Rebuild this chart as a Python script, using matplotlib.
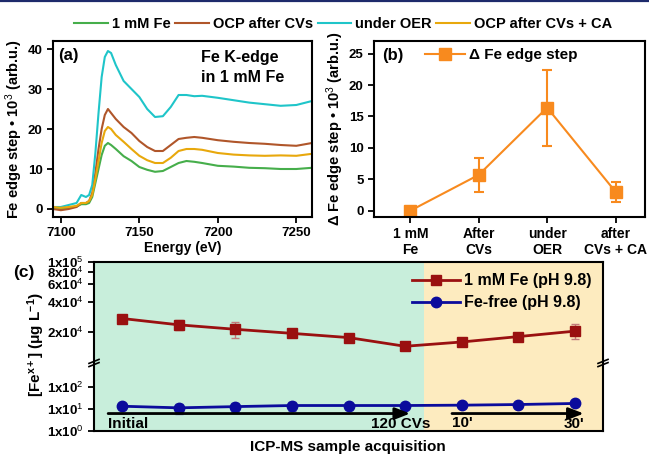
"""Fe K-edge XANES (a), delta edge step (b) and ICP-MS iron content (c)."""

import matplotlib
matplotlib.use("Agg")
import matplotlib.pyplot as plt
from matplotlib.lines import Line2D
from matplotlib.ticker import NullLocator

plt.rcParams["font.family"] = ["Liberation Sans", "DejaVu Sans"]
plt.rcParams["mathtext.fontset"] = "custom"
plt.rcParams["mathtext.rm"] = "Liberation Sans"
plt.rcParams["mathtext.bf"] = "Liberation Sans:bold"
plt.rcParams["mathtext.it"] = "Liberation Sans:italic"
plt.rcParams["axes.linewidth"] = 1.5

# ---- (a) XANES spectra (edge step * 1e3) ----
energy = [7095, 7100, 7105, 7110, 7113, 7116, 7118, 7120, 7122, 7124, 7126,
          7128, 7130, 7132, 7135, 7140, 7145, 7150, 7155, 7160, 7165, 7170,
          7175, 7180, 7185, 7190, 7200, 7210, 7220, 7230, 7240, 7250, 7260]
fe_1mM = [0.2, 0.0, 0.3, 0.6, 1.2, 1.2, 1.5, 3.0, 6.5, 10.0, 13.5, 15.8, 16.5,
          16.0, 15.0, 13.2, 12.0, 10.5, 9.8, 9.3, 9.5, 10.5, 11.5, 12.0, 11.8,
          11.5, 10.8, 10.6, 10.3, 10.2, 10.0, 10.0, 10.3]
ocp_cvs = [0.0, -0.3, 0.0, 0.5, 1.5, 1.5, 2.0, 4.0, 9.0, 15.0, 20.0, 23.5, 25.0,
           24.0, 22.5, 20.5, 19.0, 17.0, 15.5, 14.5, 14.5, 16.0, 17.5, 17.8,
           18.0, 17.8, 17.2, 16.8, 16.5, 16.3, 16.0, 15.8, 16.5]
under_oer = [0.5, 0.5, 1.0, 1.5, 3.5, 3.0, 3.5, 6.0, 14.0, 24.0, 33.0, 38.0,
             39.5, 39.0, 36.0, 32.0, 30.0, 28.0, 25.0, 23.0, 23.2, 25.5, 28.5,
             28.5, 28.2, 28.3, 27.8, 27.2, 26.6, 26.2, 25.8, 26.0, 27.0]
ocp_cvs_ca = [0.5, 0.3, 0.5, 0.8, 1.5, 1.5, 2.0, 3.5, 7.5, 12.0, 16.5, 19.5,
              20.5, 20.0, 18.5, 16.8, 15.0, 13.3, 12.2, 11.5, 11.5, 12.8, 14.5,
              15.0, 15.0, 14.8, 14.0, 13.6, 13.4, 13.3, 13.4, 13.3, 13.8]
spectra_labels = ["1 mM Fe", "OCP after CVs", "under OER", "OCP after CVs + CA"]

# ---- (b) delta Fe edge step ----
stages = ["1 mM\nFe", "After\nCVs", "under\nOER", "after\nCVs + CA"]
delta_step = [0.0, 5.7, 16.4, 3.0]
delta_err = [0.0, 2.75, 6.05, 1.6]

# ---- (c) ICP-MS, micrograms per litre ----
sample_idx = [1, 2, 3, 4, 5, 6, 7, 8, 9]
fe_conc = [2.74e4, 2.37e4, 2.14e4, 1.95e4, 1.77e4, 1.45e4, 1.60e4, 1.81e4, 2.05e4]
fe_conc_err = [1800, 2800, 4000, 1000, 900, 700, 700, 1600, 3500]
fefree_conc = [13.0, 11.0, 12.5, 14.0, 14.0, 14.0, 14.5, 15.5, 17.3]
fefree_err = [4, 5, 5, 6, 5, 3, 4, 5, 2]
hi_ticks = [2e4, 4e4, 6e4, 8e4, 1e5]
hi_ticklabels = ["2x10$^{4}$", "4x10$^{4}$", "6x10$^{4}$", "8x10$^{4}$", "1x10$^{5}$"]
lo_ticks = [1, 10, 100]
lo_ticklabels = ["1x10$^{0}$", "1x10$^{1}$", "1x10$^{2}$"]

GREEN, BROWN, CYAN, GOLD = "#46ae4b", "#b0562a", "#1fc5c9", "#e8a80c"
ORANGE = "#f88a1e"
RED, BLUE = "#9a1010", "#0b0b9c"
BG_GREEN, BG_YELLOW = "#c8eedb", "#fdebbf"

W, H = 649, 457
fig = plt.figure(figsize=(W / 100, H / 100), dpi=100)


def px_box(left, top, right, bottom):
    return [left / W, 1 - bottom / H, (right - left) / W, (bottom - top) / H]


def bold_ticks(ax, size=9.5):
    ax.tick_params(labelsize=size, width=1.3, length=4, direction="out")
    for lbl in ax.get_xticklabels() + ax.get_yticklabels():
        lbl.set_fontweight("bold")


# journal page rule at the very top
fig.add_artist(Line2D([0, 1], [0.997, 0.997], color="#1d2a6b", lw=1.6))

# ---------------- (a) ----------------
ax_a = fig.add_axes(px_box(53, 41, 312, 217))
for ys, c, lab in zip([fe_1mM, ocp_cvs, under_oer, ocp_cvs_ca],
                      [GREEN, BROWN, CYAN, GOLD], spectra_labels):
    ax_a.plot(energy, ys, color=c, lw=1.5, label=lab)
ax_a.set_xlim(7095, 7260)
ax_a.set_ylim(-2, 42)
ax_a.set_xticks([7100, 7150, 7200, 7250])
ax_a.set_yticks([0, 10, 20, 30, 40])
bold_ticks(ax_a)
ax_a.set_xlabel("Energy (eV)", fontsize=10, fontweight="bold", labelpad=1)
ax_a.set_ylabel("Fe edge step • 10$^{3}$ (arb.u.)", fontsize=10.5,
                fontweight="bold", labelpad=2)
ax_a.text(0.02, 0.96, "(a)", transform=ax_a.transAxes, fontsize=12,
          fontweight="bold", va="top")
ax_a.text(0.57, 0.95, "Fe K-edge\nin 1 mM Fe", transform=ax_a.transAxes,
          fontsize=11.5, fontweight="bold", va="top", linespacing=1.45)

fig.legend(loc="center", bbox_to_anchor=(0.529, 1 - 24 / H), ncol=4,
           frameon=False, handlelength=2.3, handletextpad=0.3,
           columnspacing=0.3, prop={"weight": "bold", "size": 10.5})

# ---------------- (b) ----------------
ax_b = fig.add_axes(px_box(374, 41, 645, 217))
xb = list(range(len(stages)))
ax_b.errorbar(xb, delta_step, yerr=delta_err, fmt="none", ecolor=ORANGE,
              elinewidth=1.5, capsize=3.5, capthick=1.5)
ax_b.plot(xb, delta_step, color=ORANGE, lw=1.5, marker="s", ms=8,
          label="Δ Fe edge step")
ax_b.set_xlim(-0.53, 3.43)
ax_b.set_ylim(-1, 27)
ax_b.set_xticks(xb)
ax_b.set_xticklabels(stages, linespacing=1.1)
ax_b.set_yticks([0, 5, 10, 15, 20, 25])
bold_ticks(ax_b)
for lbl in ax_b.get_xticklabels():
    lbl.set_fontsize(10)
ax_b.set_ylabel("Δ Fe edge step • 10$^{3}$ (arb.u.)", fontsize=10.5,
                fontweight="bold", labelpad=2)
ax_b.text(0.03, 0.96, "(b)", transform=ax_b.transAxes, fontsize=12,
          fontweight="bold", va="top")
ax_b.legend(loc="center", bbox_to_anchor=(0.47, 0.92), frameon=False,
            handlelength=2.6, handletextpad=0.3,
            prop={"weight": "bold", "size": 11})

# ---------------- (c) broken log axis ----------------
ax_hi = fig.add_axes(px_box(94, 262, 603, 362.5))
ax_lo = fig.add_axes(px_box(94, 362.5, 603, 431), sharex=ax_hi)
split = 6.34
for ax in (ax_hi, ax_lo):
    ax.axvspan(0.5, split, color=BG_GREEN, lw=0, zorder=0)
    ax.axvspan(split, 9.5, color=BG_YELLOW, lw=0, zorder=0)
    ax.set_yscale("log")
    ax.yaxis.set_minor_locator(NullLocator())
    ax.tick_params(axis="x", bottom=False, labelbottom=False)
ax_hi.spines["bottom"].set_visible(False)
ax_lo.spines["top"].set_visible(False)
ax_hi.set_xlim(0.5, 9.5)
ax_hi.set_ylim(1e4, 1e5)
ax_lo.set_ylim(1, 10 ** 3.08)

ax_hi.errorbar(sample_idx, fe_conc, yerr=fe_conc_err, fmt="none",
               ecolor="#c27a7a", elinewidth=1.0, capsize=3, zorder=2)
ax_hi.plot(sample_idx, fe_conc, color=RED, lw=2, marker="s", ms=7.5,
           zorder=3, label="1 mM Fe (pH 9.8)")
ax_lo.errorbar(sample_idx, fefree_conc, yerr=fefree_err, fmt="none",
               ecolor="#6a6ab8", elinewidth=1.0, capsize=3, zorder=2)
ln_blue, = ax_lo.plot(sample_idx, fefree_conc, color=BLUE, lw=2, marker="o",
                      ms=7.5, zorder=3, label="Fe-free (pH 9.8)")

ax_hi.set_yticks(hi_ticks)
ax_hi.set_yticklabels(hi_ticklabels)
ax_lo.set_yticks(lo_ticks)
ax_lo.set_yticklabels(lo_ticklabels)
bold_ticks(ax_hi, 9.5)
bold_ticks(ax_lo, 9.5)

handles, labels = ax_hi.get_legend_handles_labels()
ax_hi.legend(handles + [ln_blue], labels + ["Fe-free (pH 9.8)"],
             loc="upper right", bbox_to_anchor=(1.0, 1.0), frameon=False,
             handlelength=3.0, handletextpad=0.25, labelspacing=0.45,
             borderaxespad=0.3, prop={"weight": "bold", "size": 11.5})

# sequence arrows and their labels
arrow = dict(arrowstyle="-|>,head_length=0.9,head_width=0.35", color="black",
             lw=2, shrinkA=0, shrinkB=0)
ax_lo.annotate("", xy=(6.09, 6.1), xytext=(0.75, 6.1), arrowprops=arrow)
ax_lo.annotate("", xy=(9.16, 6.1), xytext=(6.83, 6.1), arrowprops=arrow)
ax_lo.text(0.75, 2.0, "Initial", fontsize=11, fontweight="bold", va="center")
ax_lo.text(6.45, 2.0, "120 CVs", fontsize=11, fontweight="bold", va="center",
           ha="right")
ax_lo.text(6.83, 2.3, "10'", fontsize=11, fontweight="bold", va="center")
ax_lo.text(9.17, 2.0, "30'", fontsize=11, fontweight="bold", va="center",
           ha="right")

# break marks on both spines
for xf in (94, 603):
    for dy in (-1.6, 1.6):
        fig.add_artist(Line2D([(xf - 5) / W, (xf + 5) / W],
                              [1 - (363 + dy + 2) / H, 1 - (363 + dy - 2) / H],
                              color="black", lw=1.2))

fig.text(36 / W, 1 - 345 / H, "[Fe$^{\\mathbf{x+}}$] (μg L$^{\\mathbf{-1}}$)",
         rotation=90, fontsize=11, fontweight="bold", ha="center", va="center")
fig.text(24 / W, 1 - 272 / H, "(c)", fontsize=12.5, fontweight="bold",
         ha="center", va="center")
fig.text(348 / W, 1 - 447 / H, "ICP-MS sample acquisition", fontsize=11,
         fontweight="bold", ha="center", va="center")

fig.savefig("out.png", dpi=100)
